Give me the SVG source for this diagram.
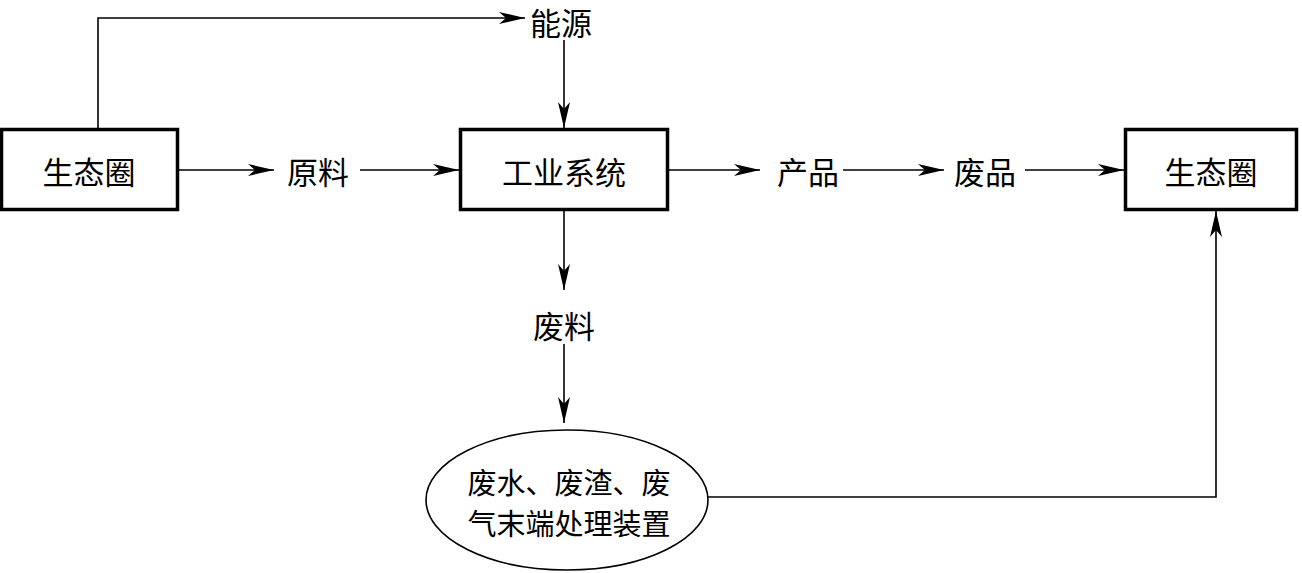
<svg xmlns="http://www.w3.org/2000/svg" width="1302" height="573" viewBox="0 0 1302 573">
<style>
.box{fill:#fff;stroke:#000;stroke-width:3.5}
.ell{fill:#fff;stroke:#000;stroke-width:1.6}
.ln{fill:none;stroke:#000;stroke-width:1.6}
.t{font-family:"Noto Sans CJK SC","Noto Sans",sans-serif;font-size:31px;fill:#000;text-anchor:middle;dominant-baseline:central}
.s{font-size:29px}
</style>
<defs>
<marker id="ah" markerUnits="userSpaceOnUse" markerWidth="28" markerHeight="12" refX="26" refY="6" orient="auto">
<path d="M0,0 L26,6 L0,12 L7,6 Z" fill="#000"/>
</marker>
</defs>
<g id="connectors">
<path class="ln" d="M98,129 V18 H525" marker-end="url(#ah)"/>
<path class="ln" d="M564,40 V128" marker-end="url(#ah)"/>
<path class="ln" d="M178,170 H274" marker-end="url(#ah)"/>
<path class="ln" d="M360,170 H459" marker-end="url(#ah)"/>
<path class="ln" d="M668,170 H760" marker-end="url(#ah)"/>
<path class="ln" d="M843,170 H944" marker-end="url(#ah)"/>
<path class="ln" d="M1025,170 H1124" marker-end="url(#ah)"/>
<path class="ln" d="M564,210 V290" marker-end="url(#ah)"/>
<path class="ln" d="M564,344 V423" marker-end="url(#ah)"/>
<path class="ln" d="M708,497 H1216 V211" marker-end="url(#ah)"/>
</g>
<g id="n-shengtai1"><rect class="box" x="1.5" y="129.5" width="176" height="80"/><text class="t" x="89" y="170">生态圈</text></g>
<g id="n-gongye"><rect class="box" x="460.5" y="129.5" width="207" height="80"/><text class="t" x="564" y="170">工业系统</text></g>
<g id="n-shengtai2"><rect class="box" x="1125.5" y="129.5" width="171" height="80"/><text class="t" x="1211" y="170">生态圈</text></g>
<g id="n-nengyuan"><text class="t" x="561" y="21">能源</text></g>
<g id="n-yuanliao"><text class="t" x="318" y="170">原料</text></g>
<g id="n-chanpin"><text class="t" x="808" y="170">产品</text></g>
<g id="n-feipin"><text class="t" x="985" y="170">废品</text></g>
<g id="n-feiliao"><text class="t" x="564" y="324">废料</text></g>
<g id="n-zhuangzhi"><ellipse class="ell" cx="567" cy="500" rx="141" ry="70"/><text class="t s" x="569" y="481">废水、废渣、废</text><text class="t s" x="569" y="522">气末端处理装置</text></g>
</svg>
